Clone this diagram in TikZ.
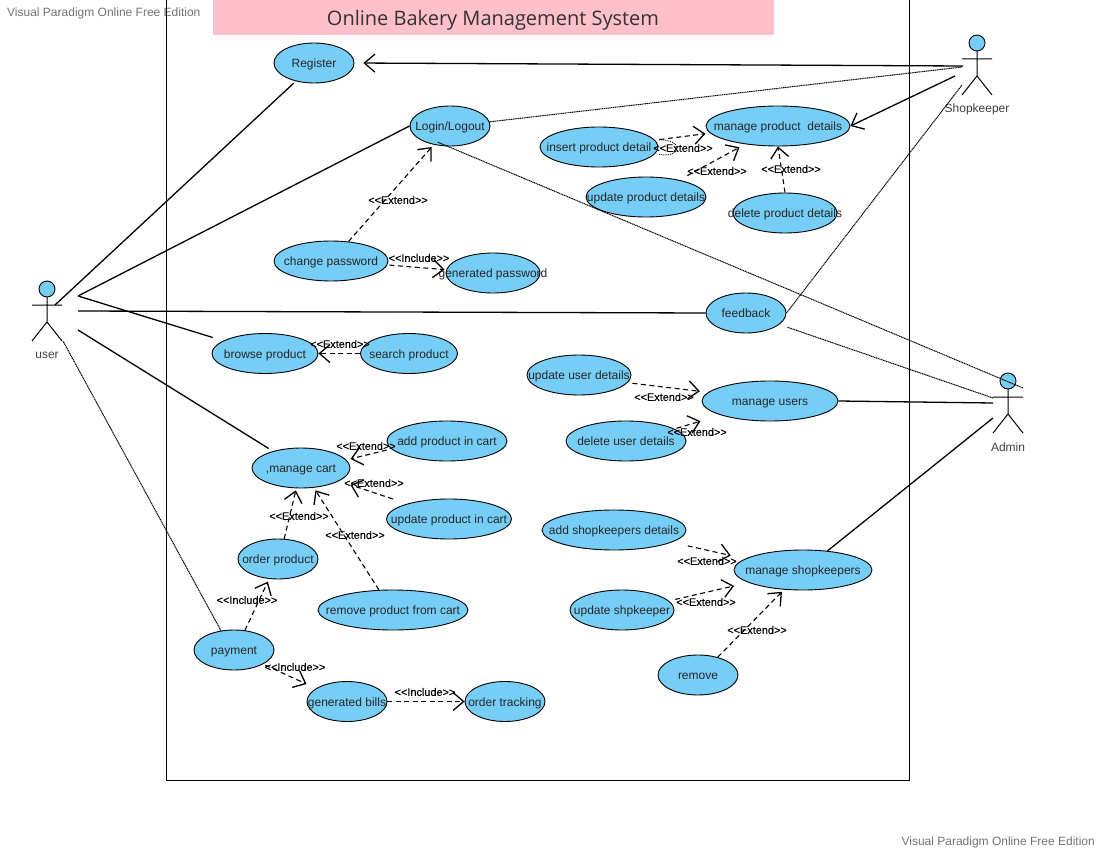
\documentclass[tikz,border=0pt]{standalone}
\usepackage{fontspec}
\setmainfont{Liberation Sans}
\newfontfamily\titlefont{Open Sans}
\newfontfamily\deplabelfont[FakeBold=0.2]{Liberation Sans}
\usetikzlibrary{arrows.meta,shapes.geometric}
\definecolor{ucblue}{HTML}{76CEF6}
\definecolor{framepink}{HTML}{FFC0CB}
\tikzset{
  usecase/.style={ellipse,draw=black,fill=ucblue,line width=0.9pt,inner sep=0pt,minimum height=40pt,font=\fontsize{12}{14}\selectfont,text=black!85},
  assoc/.style={line width=1.3pt},
  thinassoc/.style={line width=1pt,dash pattern=on 1.2pt off 0.6pt},
  opentip/.style={-{Straight Barb[length=10.5pt,width=18pt,line width=1.3pt]}},
  dep/.style={opentip,line width=1.1pt,dash pattern=on 5pt off 3.5pt},
  deptext/.style={font=\deplabelfont\fontsize{10.9}{12}\selectfont,inner sep=0pt},
  actorname/.style={font=\fontsize{12}{14}\selectfont,text=black!75,inner sep=0pt},
  stamp/.style={font=\fontsize{12}{14}\selectfont,text=black!55,inner sep=0pt}
}
\newcommand{\uc}[1]{\makebox[0pt][c]{\raisebox{-4.5pt}[0pt][0pt]{#1}}}
% actor: name, head x, head y, printed name
\newcommand{\actor}[4]{
  \begin{scope}[shift={(#2,#3)}]
    \draw[line width=1pt] (0,8) -- (0,33) (-15,16) -- (15,16) (-15,52) -- (0,33) -- (15,52);
    \node[circle,draw=black,fill=ucblue,line width=0.9pt,minimum size=16pt,inner sep=0pt] (#1) at (0,0) {};
    \node[actorname] (#1Name) at (0,66.5) {#4};
  \end{scope}
}
\begin{document}
\begin{tikzpicture}[x=1pt,y=-1pt]
\useasboundingbox (0,0) rectangle (1100,850);
\node[stamp,anchor=west] (stampA) at (7,13) {Visual Paradigm Online Free Edition};
\node[stamp,anchor=east] (stampB) at (1095,842) {Visual Paradigm Online Free Edition};
\draw[line width=1pt] (166.5,0) rectangle (909.5,780.5);
\fill[framepink] (213,0) rectangle (774,35);
\node[font=\titlefont\fontsize{20}{24}\selectfont,text=black!80,inner sep=0pt] (title) at (493,20.5) {Online Bakery Management System};

\actor{user}{47}{289}{user}
\actor{shopkeeper}{977}{43}{Shopkeeper}
\actor{admin}{1008}{381}{Admin}
\coordinate (userA) at (55,305); \coordinate (userB) at (78,296); \coordinate (userC) at (78,311);
\coordinate (userD) at (78,330); \coordinate (userE) at (63,341);
\coordinate (shopA) at (963,66); \coordinate (shopB) at (962,67);
\coordinate (shopC) at (955,76); \coordinate (shopD) at (962,85);
\coordinate (adminA) at (1023,388); \coordinate (adminB) at (993,398);
\coordinate (adminC) at (993,403); \coordinate (adminD) at (993,418);

\node[usecase,minimum width=80pt] (register) at (314,63) {\uc{Register}};
\node[usecase,minimum width=80pt] (login) at (450,126) {\uc{Login/Logout}};
\node[usecase,minimum width=118pt] (insertProd) at (599,147) {\uc{insert product detail}};
\node[usecase,minimum width=144pt] (manageProd) at (778,126) {\uc{manage product\ \ details}};
\node[usecase,minimum width=120pt] (updateProd) at (646,197) {\uc{update product details}};
\node[usecase,minimum width=104pt] (deleteProd) at (785,213) {\uc{delete product details}};
\node[usecase,minimum width=114pt] (changePass) at (331,261) {\uc{change password}};
\node[usecase,minimum width=94pt] (genPass) at (493,273) {\uc{generated password}};
\node[usecase,minimum width=80pt] (feedback) at (746,313) {\uc{feedback}};
\node[usecase,minimum width=106pt] (browse) at (265,353.5) {\uc{browse product}};
\node[usecase,minimum width=97pt] (search) at (409,353.5) {\uc{search product}};
\node[usecase,minimum width=104pt] (updateUser) at (579,375) {\uc{update user details}};
\node[usecase,minimum width=136pt] (manageUser) at (770,401) {\uc{manage users}};
\node[usecase,minimum width=120pt] (deleteUser) at (626,441) {\uc{delete user details}};
\node[usecase,minimum width=98pt] (cart) at (301,468) {\uc{,manage cart}};
\node[usecase,minimum width=120pt] (addCart) at (447,441) {\uc{add product in cart}};
\node[usecase,minimum width=125pt] (updateCart) at (449,519) {\uc{update product in cart}};
\node[usecase,minimum width=144pt] (addShop) at (614,530) {\uc{add shopkeepers details}};
\node[usecase,minimum width=138pt] (manageShop) at (803,570) {\uc{manage shopkeepers}};
\node[usecase,minimum width=80pt] (order) at (278,559) {\uc{order product}};
\node[usecase,minimum width=150pt] (removeCart) at (393,610) {\uc{remove product from cart}};
\node[usecase,minimum width=104pt] (updateShop) at (622,610) {\uc{update shpkeeper}};
\node[usecase,minimum width=80pt] (payment) at (234,650) {\uc{payment}};
\node[usecase,minimum width=80pt] (removeShop) at (698,675) {\uc{remove}};
\node[usecase,minimum width=80pt] (bills) at (347,701.5) {\uc{generated bills}};
\node[usecase,minimum width=80pt] (tracking) at (505,701.5) {\uc{order tracking}};

% actors to use cases
\draw[assoc,shorten <=3pt] (register.225) -- (userA);
\draw[assoc] (login.west) -- (userB);
\draw[assoc,shorten <=11pt] (browse.163) -- (userB);
\draw[assoc] (feedback.west) -- (userC);
\draw[assoc,shorten <=5pt] (cart.149) -- (userD);
\draw[thinassoc] (payment.124) -- (userE);
\draw[assoc,opentip,shorten >=9pt] (shopA) -- (register.east);
\draw[thinassoc] (login.6) -- (shopB);
\draw[assoc,opentip] (shopC) -- (manageProd.east);
\draw[thinassoc] (feedback.east) -- (shopD);
\draw[thinassoc,shorten <=8.5pt] (feedback.-19) -- (adminB);
\draw[thinassoc,shorten <=-11pt] (login.264) -- (adminA);
\draw[assoc] (manageUser.east) -- (adminC);
\draw[assoc] (manageShop.38) -- (adminD);

% extend and include
\draw[dep,shorten <=4.5pt,shorten >=4.7pt] (insertProd.7) -- (manageProd.186);
\draw[line width=0.9pt,densely dotted,shorten <=4pt,shorten >=4pt] (insertProd.7) .. controls (682,139) and (684,158) .. (insertProd.-7);
\draw[dep,shorten <=9pt,shorten >=6.5pt] (updateProd.27) -- (manageProd.209);
\draw[dep] (deleteProd.north) -- (manageProd.south);
\draw[dep,shorten >=3pt] (changePass.48) -- (login.229);
\draw[dep,shorten <=2pt,shorten >=1.6pt] (changePass.-4) -- (genPass.176);
\draw[dep] (search.west) -- (browse.east);
\draw[dep,shorten <=4.9pt,shorten >=8.3pt] (updateUser.-9) -- (manageUser.172);
\draw[dep,shorten <=2pt,shorten >=21pt] (deleteUser.14) -- (manageUser.196);
\draw[dep,shorten <=16.2pt,shorten >=14.7pt] (addShop.-12) -- (manageShop.169);
\draw[dep,shorten <=6.5pt,shorten >=14.7pt] (updateShop.11) -- (manageShop.193);
\draw[dep,shorten >=3pt] (removeShop.42) -- (manageShop.226);
\draw[dep,shorten <=4.6pt,shorten >=4.2pt] (addCart.188) -- (cart.10);
\draw[dep,shorten <=15pt,shorten >=12pt] (updateCart.160) -- (cart.-19);
\draw[dep,shorten >=3pt] (removeCart.125) -- (cart.-57);
\draw[dep,shorten >=2pt] (order.73) -- (cart.257);
\draw[dep,shorten >=3pt] (payment.61) -- (order.246);
\draw[dep,shorten <=2.5pt,shorten >=10.5pt] (payment.-26) -- (bills.157);
\draw[dep] (bills.east) -- (tracking.west);

\node[deptext] (extA) at (683,148) {<<Extend>>};
\node[deptext] (extB) at (717,171) {<<Extend>>};
\node[deptext] (extC) at (791,169) {<<Extend>>};
\node[deptext] (extD) at (398,200) {<<Extend>>};
\node[deptext] (incA) at (419,258) {<<Include>>};
\node[deptext] (extE) at (340,344) {<<Extend>>};
\node[deptext] (extF) at (664,397) {<<Extend>>};
\node[deptext] (extG) at (697,432) {<<Extend>>};
\node[deptext] (extH) at (366,446) {<<Extend>>};
\node[deptext] (extI) at (374,483) {<<Extend>>};
\node[deptext] (extJ) at (299,516) {<<Extend>>};
\node[deptext] (extK) at (355,535) {<<Extend>>};
\node[deptext] (extL) at (707,561) {<<Extend>>};
\node[deptext] (extM) at (706,602) {<<Extend>>};
\node[deptext] (extN) at (757,630) {<<Extend>>};
\node[deptext] (incB) at (247,600) {<<Include>>};
\node[deptext] (incC) at (295,667) {<<Include>>};
\node[deptext] (incD) at (425,692) {<<Include>>};
\end{tikzpicture}
\end{document}
